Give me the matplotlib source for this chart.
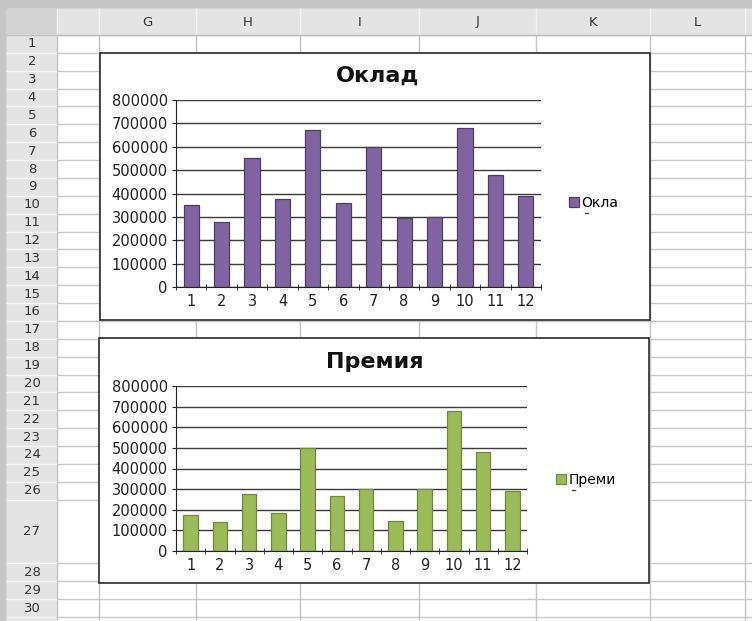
import matplotlib.pyplot as plt
from matplotlib.patches import Rectangle

# data
months = [1, 2, 3, 4, 5, 6, 7, 8, 9, 10, 11, 12]
oklad = [350000, 280000, 550000, 375000, 670000, 360000, 600000, 295000, 300000, 680000, 480000, 390000]
premia = [175000, 140000, 275000, 185000, 500000, 265000, 300000, 145000, 300000, 680000, 480000, 290000]
y_ticks = [0, 100000, 200000, 300000, 400000, 500000, 600000, 700000, 800000]
y_labels = [str(v) for v in y_ticks]
col_names = ['', 'G', 'H', 'I', 'J', 'K', 'L', '']
row_names = [str(i) for i in range(1, 31)]

W, H = 752, 621
fig = plt.figure(figsize=(W / 100, H / 100), dpi=100)
plt.rcParams['font.family'] = ['DejaVu Sans']


def frac(x0, y0, x1, y1):
    return [x0 / W, 1 - y1 / H, (x1 - x0) / W, (y1 - y0) / H]


# ---- spreadsheet background ----
bg = fig.add_axes([0, 0, 1, 1])
bg.set_xlim(0, W)
bg.set_ylim(H, 0)
bg.axis('off')
bg.add_patch(Rectangle((0, 0), W, H, color='#c6c6c6', zorder=0))
bg.add_patch(Rectangle((7, 9), W, H, color='white', zorder=0))

col_edges = [7, 57, 99, 196, 300, 419, 536, 650, 745, 760]
row_h = [17.87] * 26 + [63.7] + [17.9] * 4
row_edges = [35]
for h in row_h:
    row_edges.append(row_edges[-1] + h)

# column header strip
bg.add_patch(Rectangle((7, 9), W, 26, color='#e4e4e4', zorder=1))
# row header strip
bg.add_patch(Rectangle((7, 35), 50, H, color='#e4e4e4', zorder=1))
bg.add_patch(Rectangle((7, 9), 50, 26, color='#d2d2d2', zorder=1))

for i, name in enumerate(col_names):
    cx = (col_edges[i + 1] + col_edges[i + 2]) / 2
    bg.text(cx, 22, name, ha='center', va='center', fontsize=9.5, color='#333333', zorder=3)
for x in col_edges[1:]:
    bg.plot([x, x], [9, 35], color='#f4f4f4', lw=1, zorder=2)
    bg.plot([x, x], [35, H], color='#c4c4c4', lw=1, zorder=2)

for i, name in enumerate(row_names):
    cy = (row_edges[i] + row_edges[i + 1]) / 2
    bg.text(32, cy, name, ha='center', va='center', fontsize=9.5, color='#333333', zorder=3)
for y in row_edges:
    bg.plot([7, 57], [y, y], color='#f6f6f6', lw=1, zorder=2)
    bg.plot([57, W], [y, y], color='#c8c8c8', lw=1, zorder=2)
bg.plot([7, W], [35, 35], color='#c0c0c0', lw=1, zorder=2)

# chart frames
bg.add_patch(Rectangle((100, 53), 550, 267, facecolor='white', edgecolor='#2a2a2a', lw=1.2, zorder=5))
bg.add_patch(Rectangle((99, 338), 550, 245, facecolor='white', edgecolor='#2a2a2a', lw=1.2, zorder=5))


def draw_chart(rect, values, color, edge, title, title_xy, label, leg_xy):
    ax = fig.add_axes(frac(*rect))
    ax.patch.set_alpha(0)
    bars = ax.bar(months, values, width=0.5, color=color, edgecolor=edge, linewidth=0.9, zorder=3)
    ax.set_xlim(0.5, 12.5)
    ax.set_ylim(0, 800000)
    ax.set_yticks(y_ticks)
    ax.set_yticklabels(y_labels)
    ax.set_xticks(months)
    ax.set_xticks([m - 0.5 for m in months] + [12.5], minor=True)
    ax.tick_params(axis='x', which='major', length=0, pad=5, labelsize=10.5, labelcolor='#222222')
    ax.tick_params(axis='x', which='minor', length=5, direction='inout', color='#222222')
    ax.tick_params(axis='y', length=3, pad=3, labelsize=10.5, labelcolor='#222222', color='#222222')
    ax.yaxis.grid(True, color='#3c3c3c', lw=1, zorder=1)
    ax.set_axisbelow(True)
    for s in ('top', 'right'):
        ax.spines[s].set_visible(False)
    for s in ('left', 'bottom'):
        ax.spines[s].set_color('#222222')
        ax.spines[s].set_zorder(4)
    fig.text(title_xy[0] / W, 1 - title_xy[1] / H, title, ha='center', va='center',
             fontsize=16, fontweight='bold', color='#111111')
    ax.legend([bars], [label], loc='center left', frameon=False,
              bbox_to_anchor=(leg_xy[0] / W, 1 - leg_xy[1] / H), bbox_transform=fig.transFigure,
              borderpad=0, borderaxespad=0, handlelength=0.75, handleheight=0.75,
              handletextpad=0.15, fontsize=10)
    # clipped second line of the legend label shows only as a small stroke
    bg.plot([leg_xy[0] + 16, leg_xy[0] + 19], [leg_xy[1] + 10, leg_xy[1] + 10],
            color='#444444', lw=1, zorder=6)
    return ax


draw_chart((176, 100, 541, 287), oklad, '#8064a2', '#4e3d66', 'Оклад', (378, 76), 'Окла', (569, 203))
draw_chart((176, 386, 527, 551), premia, '#9bbb59', '#6f8a3c', 'Премия', (375, 362), 'Преми', (556, 480))

plt.savefig('out.png', dpi=100)
